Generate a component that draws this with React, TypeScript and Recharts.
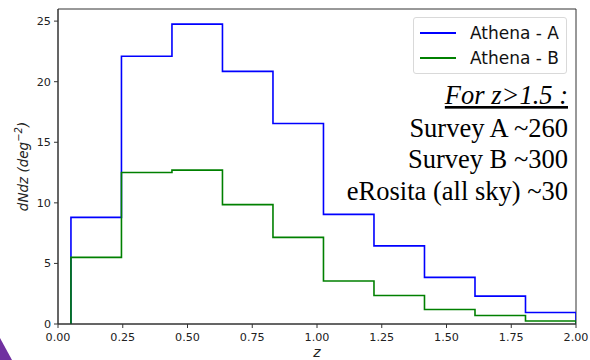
import { LineChart, Line, XAxis, YAxis, Legend, ReferenceArea } from 'recharts'

// bin edges in z, and dN/dz per bin for each survey
const binEdges = [0.05, 0.245, 0.44, 0.635, 0.83, 1.025, 1.22, 1.415, 1.61, 1.805, 2.0]
const athenaA = [8.8, 22.1, 24.75, 20.85, 16.55, 9.05, 6.45, 3.85, 2.3, 0.95]
const athenaB = [5.5, 12.5, 12.7, 9.85, 7.15, 3.55, 2.35, 1.2, 0.7, 0.25]
const xTicks = [0, 0.25, 0.5, 0.75, 1.0, 1.25, 1.5, 1.75, 2.0]
const yTicks = [0, 5, 10, 15, 20, 25]
const notes = ['Survey A ~260', 'Survey B ~300', 'eRosita (all sky) ~30']

const chartData = [
  { z: binEdges[0], a: 0, b: 0 },
  ...athenaA.map((a, i) => ({ z: binEdges[i], a, b: athenaB[i] })),
  { z: binEdges[binEdges.length - 1], a: athenaA[athenaA.length - 1], b: athenaB[athenaB.length - 1] },
  { z: binEdges[binEdges.length - 1], a: 0, b: 0 },
]

const sans = 'DejaVu Sans, sans-serif'
const serif = 'Liberation Serif, Times New Roman, serif'
const axisColor = '#333'
const tickStyle = { fill: '#222', fontSize: 11.2, fontFamily: sans }

const YLabel = ({ viewBox }: any) => {
  const cx = viewBox.x + 23
  const cy = viewBox.y + viewBox.height / 2
  return (
    <text
      x={cx}
      y={cy}
      transform={`rotate(-90 ${cx} ${cy})`}
      textAnchor="middle"
      dominantBaseline="central"
      fontFamily={sans}
      fontSize={13.5}
      fontStyle="italic"
      fill="#222"
    >
      dNdz (deg
      <tspan fontSize={10} dy={-5}>−2</tspan>
      <tspan dy={5}>)</tspan>
    </text>
  )
}

const XLabel = ({ viewBox }: any) => (
  <text
    x={viewBox.x + viewBox.width / 2}
    y={357}
    textAnchor="middle"
    fontFamily={sans}
    fontSize={14}
    fontStyle="italic"
    fill="#222"
  >
    z
  </text>
)

const LegendBox = ({ payload }: any) => (
  <div
    style={{
      position: 'relative',
      width: 152,
      height: 55,
      border: '1px solid #d9d9d9',
      borderRadius: 3,
      background: 'rgba(255,255,255,0.85)',
      fontFamily: sans,
      fontSize: 17,
      color: '#111',
    }}
  >
    {(payload || []).map((p: any, i: number) => (
      <div key={p.value} style={{ position: 'absolute', left: 6, top: 4 + i * 25, display: 'flex', alignItems: 'center', height: 22 }}>
        <span style={{ display: 'inline-block', width: 36, height: 2, background: p.color }} />
        <span style={{ marginLeft: 14, whiteSpace: 'nowrap' }}>{p.value}</span>
      </div>
    ))}
  </div>
)

export default function App() {
  return (
    <div style={{ position: 'fixed', left: 0, top: 0, width: 590, height: 360, background: '#fff' }}>
      <LineChart width={590} height={360} data={chartData} margin={{ top: 9, right: 14, bottom: 0, left: 0 }}>
        <XAxis
          dataKey="z"
          type="number"
          domain={[0, 2]}
          ticks={xTicks}
          allowDataOverflow
          tickFormatter={(v: number) => v.toFixed(2)}
          tick={tickStyle}
          tickSize={4}
          tickMargin={5}
          height={36}
          stroke={axisColor}
          label={<XLabel />}
        />
        <YAxis
          type="number"
          domain={[0, 26]}
          ticks={yTicks}
          allowDataOverflow
          tick={tickStyle}
          tickSize={4}
          tickMargin={3}
          width={58}
          stroke={axisColor}
          label={<YLabel />}
        />
        <ReferenceArea x1={0} x2={2} y1={0} y2={26} fill="none" stroke={axisColor} strokeWidth={1} ifOverflow="visible" />
        <Line
          type="stepAfter"
          dataKey="a"
          name="Athena - A"
          stroke="#0000ff"
          strokeWidth={1.6}
          dot={false}
          isAnimationActive={false}
        />
        <Line
          type="stepAfter"
          dataKey="b"
          name="Athena - B"
          stroke="#008000"
          strokeWidth={1.6}
          dot={false}
          isAnimationActive={false}
        />
        <Legend
          layout="horizontal"
          verticalAlign="middle"
          align="center"
          content={<LegendBox />}
          wrapperStyle={{ position: 'absolute', left: 413, top: 17, width: 154, height: 57 }}
        />
      </LineChart>
      <svg width={590} height={360} style={{ position: 'absolute', left: 0, top: 0, pointerEvents: 'none' }}>
        <text
          x={568}
          y={104}
          textAnchor="end"
          fontFamily={serif}
          fontSize={26.5}
          fontStyle="italic"
          textDecoration="underline"
          fill="#000"
        >
          For z&gt;1.5 :
        </text>
        {notes.map((t, i) => (
          <text key={t} x={568} y={136.5 + i * 31.7} textAnchor="end" fontFamily={serif} fontSize={26.5} fill="#000">
            {t}
          </text>
        ))}
        <polygon points="0,338 12,360 0,360" fill="#7030a0" />
      </svg>
    </div>
  )
}
